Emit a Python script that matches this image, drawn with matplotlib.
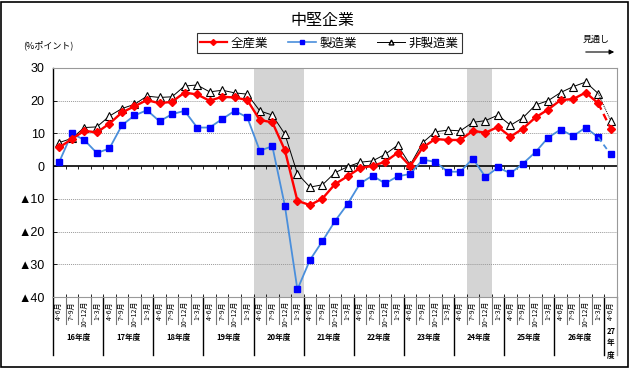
import matplotlib
matplotlib.use("Agg")
from matplotlib import pyplot as plt
from matplotlib.lines import Line2D
from matplotlib.patches import Rectangle
import numpy as np

plt.rcParams['font.family'] = ['Noto Sans CJK JP', 'DejaVu Sans']

years = ['16年度', '17年度', '18年度', '19年度', '20年度', '21年度',
         '22年度', '23年度', '24年度', '25年度', '26年度']
last_year = '27\n年\n度'
quarters = ['4~6月', '7~9月', '10~12月', '1~3月']

# 全産業
zen = [5.7, 8.3, 10.8, 10.3, 13.0, 16.4, 18.3, 20.2, 19.2, 19.7, 22.5, 21.9,
       20.0, 21.2, 21.0, 20.2, 14.1, 13.4, 4.9, -10.6, -11.9, -9.9, -5.5, -3.1,
       -0.6, 0.1, 1.3, 4.1, 0.0, 5.7, 8.3, 8.0, 8.0, 10.8, 10.2, 12.0,
       9.0, 11.5, 14.9, 17.3, 20.2, 20.5, 22.5, 19.2, 11.5]
# 製造業
sei = [1.3, 10.0, 8.0, 4.0, 5.4, 12.5, 15.5, 17.1, 13.7, 15.9, 16.9, 11.8,
       11.8, 14.4, 16.9, 14.9, 4.7, 6.1, -12.1, -37.7, -28.7, -22.9, -16.8, -11.6,
       -5.3, -2.9, -5.3, -3.1, -2.4, 2.0, 1.3, -1.7, -1.7, 2.3, -3.3, -0.4,
       -2.2, 0.8, 4.3, 8.7, 11.2, 9.2, 11.8, 8.8, 3.6]
# 非製造業
hi = [7.2, 8.5, 11.8, 12.0, 15.3, 17.6, 18.9, 21.4, 21.0, 21.2, 24.5, 24.8,
      22.7, 23.2, 22.4, 22.0, 16.9, 15.6, 9.8, -2.3, -6.4, -5.7, -2.0, -0.2,
      1.2, 1.6, 3.6, 6.4, 0.4, 7.2, 10.5, 11.0, 10.8, 13.4, 13.9, 15.6,
      12.5, 14.8, 18.7, 20.0, 22.5, 24.3, 25.7, 22.2, 13.9]

shade = [(16, 20), (33, 35)]

n = len(zen)
x = np.arange(n) + 0.5

fig = plt.figure(figsize=(6.3, 3.68), dpi=100)
ax = fig.add_axes([53/630, 71/368, 564/630, 229/368])
ax.set_xlim(0, 45)
ax.set_ylim(-40, 30)

for a, b in shade:
    ax.axvspan(a, b, facecolor='#d4d4d4', edgecolor='none', zorder=0)

for v in [10, 20, -10, -20, -30]:
    ax.axhline(v, color='#999999', lw=0.7, ls=(0, (1, 1)), zorder=1)
ax.axhline(0, color='black', lw=1.2, zorder=2)
ax.vlines(np.arange(1, n), -0.9, 0, color='black', lw=0.6, zorder=2)
ax.vlines(np.arange(1, n), -40, -39.1, color='black', lw=0.6, zorder=2)

blue_line = '#4a8fdc'
ax.plot(x[:-1], hi[:-1], color='black', lw=0.7, marker='^', ms=5.5,
        mfc='white', mec='black', mew=0.8, zorder=3)
ax.plot(x[-2:], hi[-2:], color='black', lw=0.7, ls=(0, (1, 1)), zorder=3)
ax.plot(x[-1:], hi[-1:], ls='none', marker='^', ms=5.5, mfc='white', mec='black', mew=0.8, zorder=3)

ax.plot(x[:-1], sei[:-1], color=blue_line, lw=1.3, marker='s', ms=4,
        mfc='#0000ff', mec='#0000ff', zorder=4)
ax.plot(x[-2:], sei[-2:], color=blue_line, lw=1.3, ls=(0, (3, 2)), zorder=4)
ax.plot(x[-1:], sei[-1:], ls='none', marker='s', ms=4, mfc='#0000ff', mec='#0000ff', zorder=4)

ax.plot(x[:-1], zen[:-1], color='#ff0000', lw=1.7, marker='D', ms=4,
        mfc='#ff0000', mec='#ff0000', zorder=5)
ax.plot(x[-2:], zen[-2:], color='#ff0000', lw=1.7, ls=(0, (3, 2)), zorder=5)
ax.plot(x[-1:], zen[-1:], ls='none', marker='D', ms=4, mfc='#ff0000', mec='#ff0000', zorder=5)

ax.set_xticks([])
ax.set_yticks(range(-40, 31, 10))
ax.set_yticklabels([('▲%d' % -v) if v < 0 else str(v) for v in range(-40, 31, 10)],
                   family=['Liberation Sans', 'DejaVu Sans'], fontsize=9)
ax.tick_params(axis='y', direction='in', length=3, width=0.6, pad=6)
for s in ['top', 'right', 'bottom']:
    ax.spines[s].set_color('#999999')
    ax.spines[s].set_linewidth(0.8)
ax.spines['left'].set_linewidth(1.0)

# category axis below the plot
tr = ax.get_xaxis_transform()
for i in range(n):
    ax.text(x[i], -0.018, quarters[i % 4], rotation=90, ha='center', va='top',
            fontsize=5, transform=tr)
for i in range(1, n):
    if i % 4 == 0:
        ax.plot([i, i], [0, -0.255], color='black', lw=1.0, transform=tr, clip_on=False)
    else:
        ax.plot([i, i], [0, -0.12], color='#777777', lw=0.8, transform=tr, clip_on=False)
ax.plot([45, 45], [0, -0.255], color='#999999', lw=1.0, transform=tr, clip_on=False)
ax.plot([0, 0], [0, -0.255], color='black', lw=1.0, transform=tr, clip_on=False)
for k, yr in enumerate(years):
    ax.text(4 * k + 2, -0.175, yr, ha='center', va='center', fontsize=5.5,
            fontweight='bold', transform=tr)
ax.text(44.5, -0.2, last_year, ha='center', va='center', fontsize=5.5,
        fontweight='bold', linespacing=1.4, transform=tr)

fig.text(322/630, 1 - 20/368, '中堅企業', ha='center', va='center', fontsize=11.5)
fig.text(48/630, 1 - 45/368, '(%ポイント)', ha='center', va='center', fontsize=6.5)
fig.text(596/630, 1 - 39/368, '見通し', ha='center', va='center', fontsize=6.5)
fig.add_artist(matplotlib.patches.FancyArrowPatch(
    (583/630, 1 - 52/368), (617/630, 1 - 52/368), transform=fig.transFigure,
    arrowstyle='-|>', mutation_scale=7, color='black', lw=0.8))

handles = [
    Line2D([], [], color='#ff0000', lw=1.6, marker='D', ms=3),
    Line2D([], [], color=blue_line, lw=1.2, marker='s', ms=3, mfc='#0000ff', mec='#0000ff'),
    Line2D([], [], color='black', lw=0.7, marker='^', ms=3.5, mfc='white', mec='black'),
]
leg = fig.legend(handles, ['全産業', '製造業', '非製造業'], ncol=3,
                 loc='center', bbox_to_anchor=(329/630, 1 - 43/368),
                 fontsize=9, frameon=True, fancybox=False, edgecolor='black',
                 handlelength=2.2, handletextpad=0.3, columnspacing=1.6,
                 borderpad=0.25, borderaxespad=0)
leg.get_frame().set_linewidth(0.8)

fig.add_artist(Rectangle((1/630, 1/368), 627/630, 365/368, transform=fig.transFigure,
                         fill=False, edgecolor='black', lw=1.2))

fig.savefig('out.png', dpi=100)
